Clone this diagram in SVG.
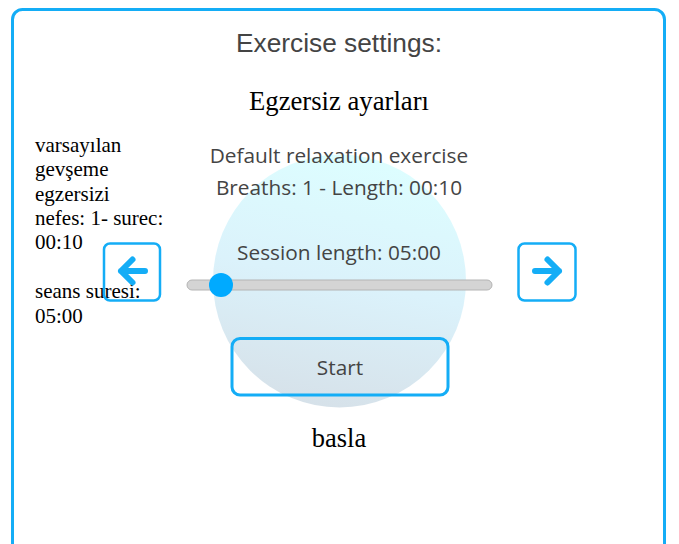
<svg xmlns="http://www.w3.org/2000/svg" width="679" height="544" viewBox="0 0 679 544">
<defs>
<linearGradient id="orb" x1="0.6" y1="0" x2="0.4" y2="1">
<stop offset="0" stop-color="#ddfeff"/>
<stop offset="0.5" stop-color="#dbf2fb"/>
<stop offset="1" stop-color="#d6e1e9"/>
</linearGradient>
<style>
.frame{fill:none;stroke:#14adf6;stroke-width:3}
.btn{fill:none;stroke:#14adf6;stroke-width:2.5}
.arrow{fill:none;stroke:#14adf6;stroke-width:6;stroke-linecap:round;stroke-linejoin:round}
.sans{font-family:"Liberation Sans",Arial,sans-serif;fill:#444}
.ui{font-family:"Open Sans","Noto Sans",sans-serif;fill:#444}
.serif{font-family:"Liberation Serif","Times New Roman",serif;fill:#000}
</style>
</defs>
<rect class="frame" x="12.5" y="9.5" width="652" height="580" rx="10"/>
<circle cx="339.5" cy="281" r="126.5" fill="url(#orb)"/>
<g id="title">
<text class="sans" x="339" y="52" font-size="26.3" text-anchor="middle">Exercise settings:</text>
</g>
<g id="title-tr">
<text class="serif" x="339" y="110" font-size="26.7" text-anchor="middle">Egzersiz ayarları</text>
</g>
<g id="exercise-info">
<text class="ui" x="339" y="163" font-size="20.8" text-anchor="middle">Default relaxation exercise</text>
<text class="ui" x="339" y="195" font-size="20.8" text-anchor="middle">Breaths: 1 - Length: 00:10</text>
</g>
<g id="session-length">
<text class="ui" x="339" y="260" font-size="20.8" text-anchor="middle">Session length: 05:00</text>
</g>
<g id="slider">
<rect x="187" y="280" width="305" height="10" rx="5" fill="#d4d4d4" stroke="#b4b4b4" stroke-width="1"/>
<circle cx="221" cy="285" r="12" fill="#00aaff"/>
</g>
<g id="left-text">
<text class="serif" font-size="21">
<tspan x="35" y="152">varsayılan</tspan>
<tspan x="35" y="176">gevşeme</tspan>
<tspan x="35" y="200.5">egzersizi</tspan>
<tspan x="35" y="225">nefes: 1- surec:</tspan>
<tspan x="35" y="249">00:10</tspan>
<tspan x="35" y="298">seans suresi:</tspan>
<tspan x="35" y="323">05:00</tspan>
</text>
</g>
<g id="btn-prev">
<rect class="btn" x="104" y="243.5" width="56" height="57" rx="6"/>
<path class="arrow" d="M145 271H121M132.5 259.5L121 271L132.5 282.5"/>
</g>
<g id="btn-next">
<rect class="btn" x="518.5" y="243.5" width="57" height="57" rx="6"/>
<path class="arrow" d="M535 271H559M547.5 259.5L559 271L547.5 282.5"/>
</g>
<g id="btn-start">
<rect x="232" y="338.5" width="216" height="56.5" rx="8" fill="none" stroke="#14adf6" stroke-width="3"/>
<text class="ui" x="340" y="375" font-size="20.8" text-anchor="middle">Start</text>
</g>
<g id="start-tr">
<text class="serif" x="339" y="447" font-size="26.5" text-anchor="middle">basla</text>
</g>
<g id="connectors"/>
</svg>
